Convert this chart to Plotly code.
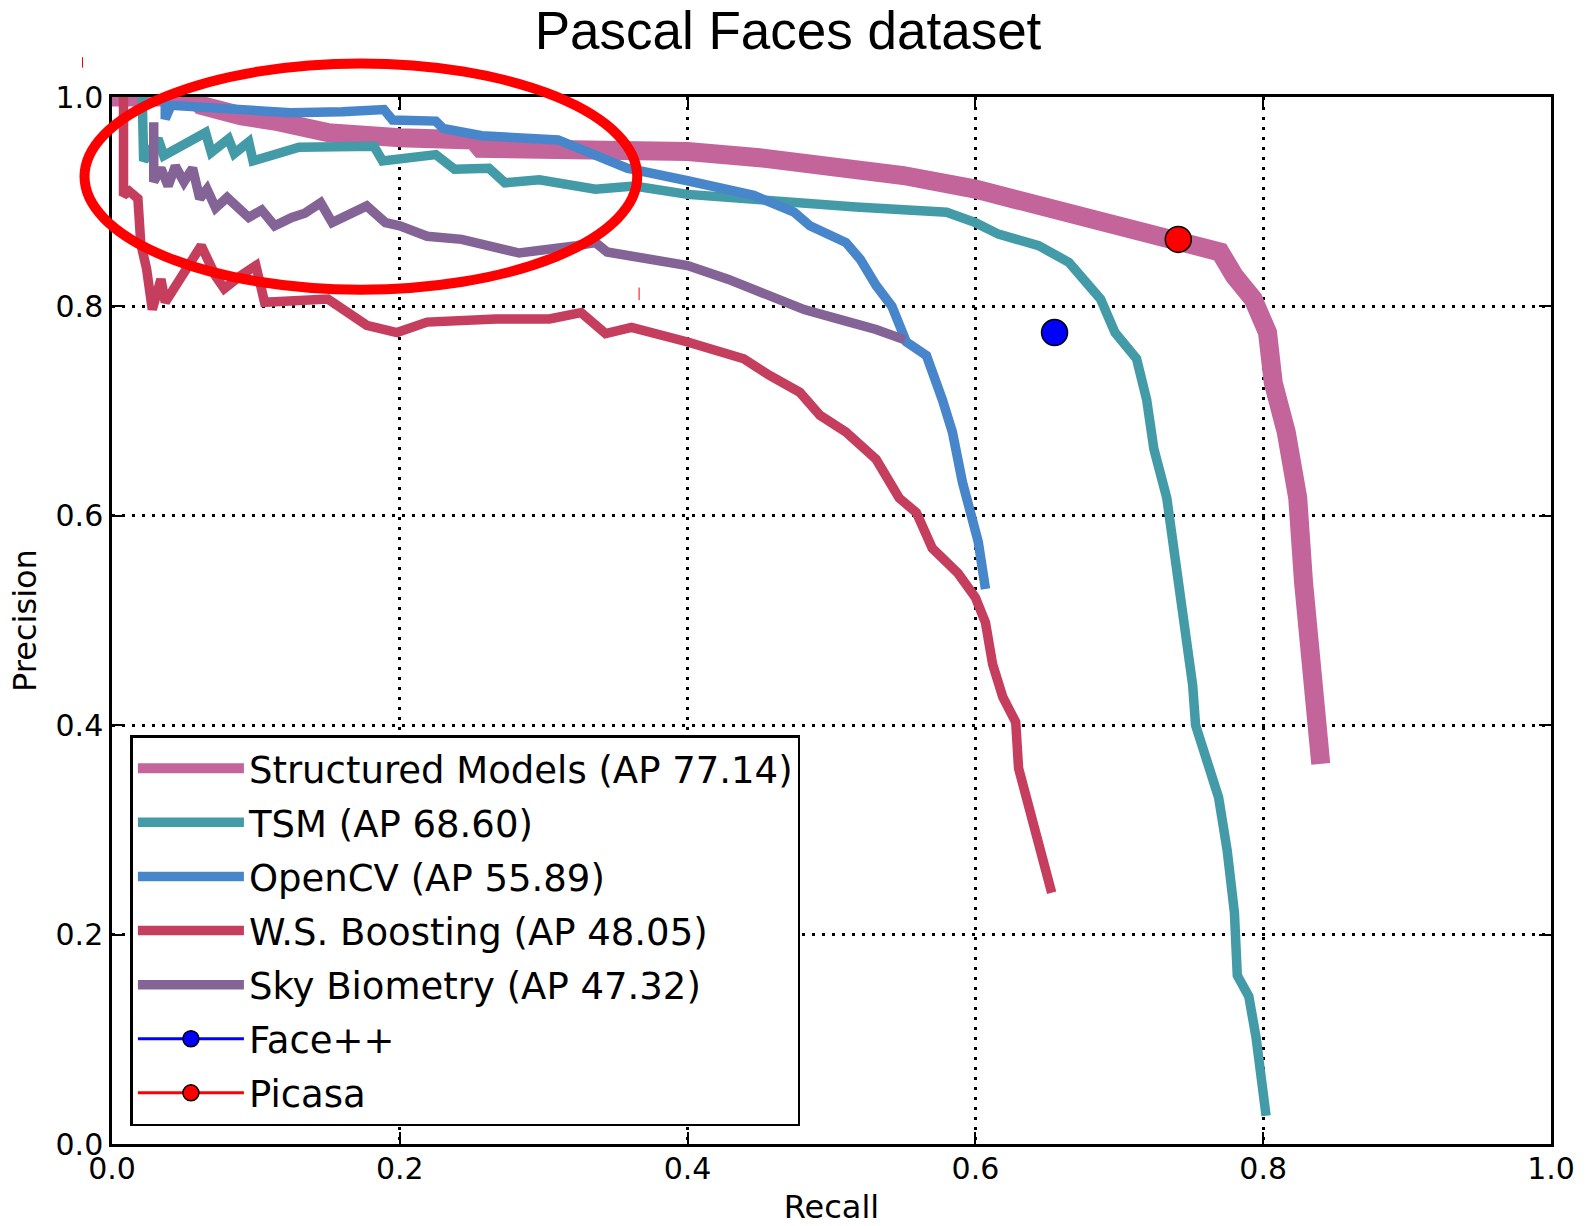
import plotly.graph_objects as go

# ---------------- data ----------------
sm_r = [0, 0.057, 0.062, 0.076, 0.09, 0.113, 0.13, 0.15, 0.2, 0.251, 0.256, 0.3, 0.363, 0.4, 0.45, 0.5,
        0.55, 0.6, 0.65, 0.7, 0.73, 0.76, 0.77, 0.78, 0.793, 0.803, 0.807, 0.816, 0.824, 0.828, 0.834,
        0.84, 0.84]
sm_p = [1.0, 1.0, 0.992, 0.986, 0.982, 0.977, 0.972, 0.966, 0.961, 0.959, 0.951, 0.95, 0.95, 0.948,
        0.942, 0.935, 0.925, 0.912, 0.894, 0.877, 0.866, 0.858, 0.852, 0.829, 0.807, 0.775, 0.727,
        0.68, 0.617, 0.537, 0.458, 0.399, 0.363]

tsm_r = [0.021, 0.021, 0.022, 0.032, 0.036, 0.065, 0.069, 0.081, 0.085, 0.095, 0.098, 0.13, 0.182,
         0.188, 0.225, 0.238, 0.262, 0.273, 0.297, 0.336, 0.363, 0.4, 0.471, 0.517, 0.58, 0.6, 0.616,
         0.644, 0.665, 0.687, 0.697, 0.712, 0.719, 0.724, 0.733, 0.739, 0.746, 0.751, 0.753, 0.762,
         0.769, 0.775, 0.78, 0.782, 0.79, 0.795, 0.8, 0.802]
tsm_p = [1.0, 0.96, 0.939, 0.96, 0.944, 0.966, 0.947, 0.96, 0.946, 0.957, 0.939, 0.952, 0.953, 0.939,
         0.945, 0.931, 0.932, 0.918, 0.921, 0.912, 0.915, 0.907, 0.899, 0.895, 0.89, 0.88, 0.869,
         0.858, 0.842, 0.807, 0.775, 0.75, 0.711, 0.664, 0.617, 0.557, 0.498, 0.438, 0.4, 0.359,
         0.331, 0.28, 0.221, 0.161, 0.141, 0.102, 0.054, 0.027]

cv_r = [0.037, 0.037, 0.041, 0.06, 0.09, 0.124, 0.16, 0.189, 0.195, 0.225, 0.23, 0.257, 0.31, 0.335,
        0.358, 0.4, 0.446, 0.474, 0.485, 0.51, 0.52, 0.531, 0.542, 0.552, 0.566, 0.577, 0.584, 0.591,
        0.602, 0.607]
cv_p = [1.0, 0.979, 0.992, 0.99, 0.989, 0.985, 0.986, 0.988, 0.978, 0.977, 0.97, 0.963, 0.959, 0.945,
        0.932, 0.92, 0.906, 0.89, 0.877, 0.861, 0.845, 0.82, 0.8, 0.766, 0.753, 0.711, 0.68, 0.632,
        0.575, 0.53]

ws_r = [0.008, 0.008, 0.012, 0.018, 0.02, 0.024, 0.028, 0.034, 0.037, 0.062, 0.072, 0.078, 0.09, 0.1,
        0.106, 0.15, 0.177, 0.198, 0.219, 0.267, 0.304, 0.32, 0.326, 0.343, 0.361, 0.4, 0.439, 0.457,
        0.478, 0.492, 0.51, 0.531, 0.547, 0.559, 0.57, 0.588, 0.6, 0.607, 0.612, 0.619, 0.628, 0.63,
        0.637, 0.644, 0.653]
ws_p = [1.0, 0.906, 0.91, 0.903, 0.86, 0.836, 0.797, 0.826, 0.804, 0.858, 0.829, 0.817, 0.83, 0.839,
        0.804, 0.807, 0.782, 0.775, 0.785, 0.788, 0.788, 0.791, 0.794, 0.774, 0.78, 0.766, 0.75, 0.734,
        0.718, 0.696, 0.68, 0.654, 0.617, 0.603, 0.569, 0.545, 0.522, 0.498, 0.458, 0.427, 0.403,
        0.359, 0.32, 0.288, 0.24]

sky_r = [0.029, 0.029, 0.034, 0.039, 0.044, 0.05, 0.056, 0.061, 0.066, 0.072, 0.08, 0.095, 0.104,
         0.113, 0.125, 0.134, 0.145, 0.153, 0.177, 0.19, 0.2, 0.219, 0.243, 0.283, 0.323, 0.336, 0.344,
         0.36, 0.4, 0.428, 0.457, 0.481, 0.51, 0.531, 0.551]
sky_p = [0.976, 0.919, 0.932, 0.915, 0.934, 0.919, 0.932, 0.903, 0.912, 0.894, 0.904, 0.885, 0.892,
         0.877, 0.885, 0.889, 0.899, 0.88, 0.896, 0.88, 0.877, 0.867, 0.864, 0.851, 0.858, 0.861,
         0.852, 0.848, 0.839, 0.826, 0.81, 0.797, 0.786, 0.778, 0.768]

facepp_r = [0.655]
facepp_p = [0.775]
picasa_r = [0.741]
picasa_p = [0.864]

tick_vals = [0.0, 0.2, 0.4, 0.6, 0.8, 1.0]
tick_text = ["0.0", "0.2", "0.4", "0.6", "0.8", "1.0"]

curves = [
    ("Structured Models (AP 77.14)", sm_r, sm_p, "#c3649b", 19),
    ("TSM (AP 68.60)", tsm_r, tsm_p, "#439ba8", 9.5),
    ("OpenCV (AP 55.89)", cv_r, cv_p, "#4886cc", 9.5),
    ("W.S. Boosting (AP 48.05)", ws_r, ws_p, "#c63e5e", 9.5),
    ("Sky Biometry (AP 47.32)", sky_r, sky_p, "#846496", 9.5),
]
points = [
    ("Face++", facepp_r, facepp_p, "#0000ff"),
    ("Picasa", picasa_r, picasa_p, "#ff0000"),
]

fig = go.Figure()
for name, r, p, col, w in curves:
    fig.add_trace(go.Scatter(x=r, y=p, mode="lines", name=name, legendgroup=name,
                             line=dict(color=col, width=w)))
for name, r, p, col in points:
    fig.add_trace(go.Scatter(x=r, y=p, mode="lines+markers", name=name, legendgroup=name,
                             line=dict(color=col, width=3),
                             marker=dict(color=col, size=26, line=dict(color="black", width=1.5))))

axis_common = dict(
    range=[0, 1], tickvals=tick_vals, ticktext=tick_text, automargin=False,
    showline=True, linecolor="black", linewidth=2.5, mirror="ticks",
    ticks="inside", ticklen=12, tickwidth=2, tickcolor="black",
    showgrid=True, gridcolor="black", gridwidth=2.5, griddash="3px,7px",
    zeroline=False, tickfont=dict(family="DejaVu Sans", size=30, color="black"),
)
fig.update_xaxes(**axis_common, ticklabelstandoff=-4,
                 title=dict(text="Recall", font=dict(family="DejaVu Sans", size=32, color="black"),
                            standoff=20))
fig.update_yaxes(**axis_common,
                 title=dict(text="Precision", font=dict(family="DejaVu Sans", size=32, color="black"),
                            standoff=10))

shapes = [
    dict(type="circle", xref="paper", yref="paper", x0=-0.0191, x1=0.365, y0=0.816, y1=1.032,
         line=dict(color="#ff0000", width=10), layer="above"),
    dict(type="line", xref="paper", yref="paper", x0=-0.0205, x1=-0.0205, y0=1.028, y1=1.038,
         line=dict(color="#ff0000", width=1)),
    dict(type="line", xref="paper", yref="paper", x0=0.3663, x1=0.3663, y0=0.806, y1=0.818,
         line=dict(color="#ff0000", width=1)),
]

fig.update_layout(
    width=1590, height=1226,
    margin=dict(l=111.5, r=38.5, t=97.4, b=82, autoexpand=False),
    paper_bgcolor="white", plot_bgcolor="white",
    title=dict(text="Pascal Faces dataset", x=788 / 1590, xanchor="center", xref="container",
               y=1 - 30 / 1226, yanchor="middle", yref="container",
               font=dict(family="Liberation Sans", size=53, color="black")),
    legend=dict(x=0.0128, y=0.017, xanchor="left", yanchor="bottom",
                bgcolor="white", bordercolor="black", borderwidth=2.5,
                font=dict(family="DejaVu Sans", size=37, color="black"),
                itemwidth=106, tracegroupgap=3),
    shapes=shapes,
    showlegend=True,
)

fig.write_html("out.html", config={"displayModeBar": False},
               post_script="document.body.style.margin='0';document.body.style.overflow='hidden';")
